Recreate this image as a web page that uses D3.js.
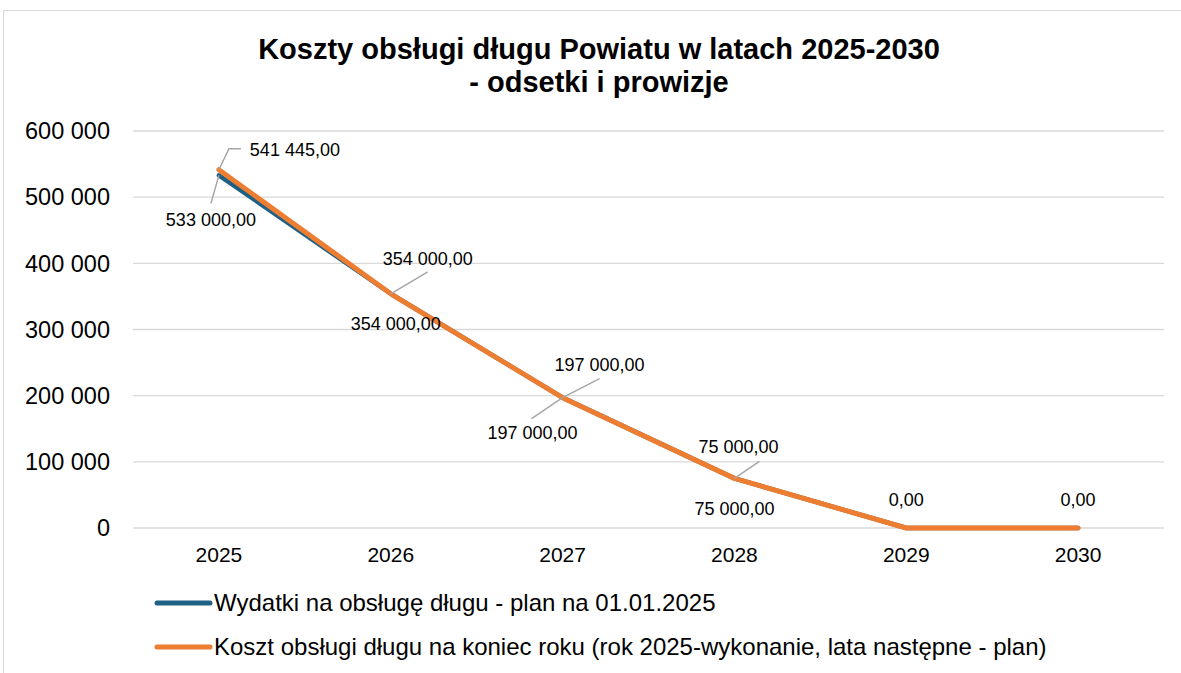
<!DOCTYPE html>
<html>
<head>
<meta charset="utf-8">
<script src="https://cdn.jsdelivr.net/npm/d3@7"></script>
<style>
  body { margin: 0; background: #fff; }
  text { font-family: "Liberation Sans", Arial, sans-serif; fill: #000; }
</style>
</head>
<body>
<div id="chart"></div>
<script>
var years = ["2025", "2026", "2027", "2028", "2029", "2030"];
var planValues = [533000, 354000, 197000, 75000, 0, 0];
var actualValues = [541445, 354000, 197000, 75000, 0, 0];
var seriesNames = [
  "Wydatki na obsługę długu - plan na 01.01.2025",
  "Koszt obsługi długu na koniec roku (rok 2025-wykonanie, lata następne - plan)"
];
var yTicks = [0, 100000, 200000, 300000, 400000, 500000, 600000];

var svgWidth = 1181;
var svgHeight = 673;

var svg = d3.select("#chart")
  .append("svg")
  .attr("width", svgWidth)
  .attr("height", svgHeight);

// outer chart border
svg.append("rect")
  .attr("x", 3.5).attr("y", 10.5)
  .attr("width", 1200).attr("height", 700)
  .attr("fill", "none")
  .attr("stroke", "#d9d9d9");

var x = d3.scaleBand().domain(years).range([133, 1164]);
var y = d3.scaleLinear().domain([0, 600000]).range([528, 131]);

var fmtInt = d3.formatLocale({ decimal: ",", thousands: " ", grouping: [3], currency: ["", ""] });
var tickFmt = fmtInt.format(",d");
var labelFmt = fmtInt.format(",.2f");

// gridlines
svg.append("g").selectAll("line")
  .data(yTicks)
  .enter().append("line")
  .attr("x1", 133).attr("x2", 1164)
  .attr("y1", d => y(d)).attr("y2", d => y(d))
  .attr("stroke", "#d9d9d9").attr("stroke-width", 1.3);

// y axis labels
svg.append("g").selectAll("text")
  .data(yTicks)
  .enter().append("text")
  .attr("x", 110)
  .attr("y", d => y(d))
  .attr("dy", "0.35em")
  .attr("text-anchor", "end")
  .style("font-size", "23.5px")
  .text(d => tickFmt(d));

// x axis labels
svg.append("g").selectAll("text")
  .data(years)
  .enter().append("text")
  .attr("x", d => x(d) + x.bandwidth() / 2)
  .attr("y", 562)
  .attr("text-anchor", "middle")
  .style("font-size", "21px")
  .text(d => d);

// title
var title = svg.append("text")
  .attr("text-anchor", "middle")
  .style("font-size", "29px")
  .style("font-weight", "bold");
title.append("tspan").attr("x", 599).attr("y", 59).text("Koszty obsługi długu Powiatu w latach 2025-2030");
title.append("tspan").attr("x", 599).attr("y", 92).text("- odsetki i prowizje");

var cx = d => x(d) + x.bandwidth() / 2;

var line = d3.line()
  .x((d, i) => cx(years[i]))
  .y(d => y(d));

svg.append("path")
  .datum(planValues)
  .attr("d", line)
  .attr("fill", "none")
  .attr("stroke", "#1f6085")
  .attr("stroke-width", 4.5)
  .attr("stroke-linejoin", "round")
  .attr("stroke-linecap", "round");

svg.append("path")
  .datum(actualValues)
  .attr("d", line)
  .attr("fill", "none")
  .attr("stroke", "#ed7d31")
  .attr("stroke-width", 5)
  .attr("stroke-linejoin", "round")
  .attr("stroke-linecap", "round");

// data label placement: offsets from the point, plus optional leader line
// (null = label hidden under the other series' label)
var planLabelPos = [
  { dx: -8, dy: 44, lead: [-8, 28] },
  { dx: 5, dy: 30, lead: null },
  { dx: -30, dy: 35, lead: [-31, 21] },
  { dx: 0, dy: 30, lead: null },
  null,
  null
];
var actualLabelPos = [
  { dx: 76, dy: -20, lead: [10, -21, 22, -21] },
  { dx: 37, dy: -35, lead: [37, -22] },
  { dx: 37, dy: -33, lead: [37, -19] },
  { dx: 4, dy: -32, lead: [25, -17] },
  { dx: 0, dy: -28, lead: null },
  { dx: 0, dy: -28, lead: null }
];

function drawLabels(values, pos) {
  var g = svg.append("g");
  values.forEach(function(v, i) {
    var p = pos[i];
    if (!p) return;
    var px = cx(years[i]), py = y(v);
    if (p.lead) {
      var pts = [[px, py]];
      for (var k = 0; k < p.lead.length; k += 2) pts.push([px + p.lead[k], py + p.lead[k + 1]]);
      g.append("path")
        .attr("d", d3.line()(pts))
        .attr("fill", "none")
        .attr("stroke", "#a6a6a6")
        .attr("stroke-width", 1.5);
    }
    g.append("text")
      .attr("x", px + p.dx)
      .attr("y", py + p.dy)
      .attr("dy", "0.35em")
      .attr("text-anchor", "middle")
      .style("font-size", "18px")
      .text(labelFmt(v));
  });
}
drawLabels(planValues, planLabelPos);
drawLabels(actualValues, actualLabelPos);

// legend
var legendColors = ["#1f6085", "#ed7d31"];
var legend = svg.append("g").selectAll("g")
  .data(seriesNames)
  .enter().append("g")
  .attr("transform", (d, i) => `translate(157, ${603 + i * 44})`);
legend.append("line")
  .attr("x1", 0).attr("x2", 53)
  .attr("stroke", (d, i) => legendColors[i])
  .attr("stroke-width", 5)
  .attr("stroke-linecap", "round");
legend.append("text")
  .attr("x", 57)
  .attr("dy", "0.35em")
  .style("font-size", "24px")
  .text(d => d);
</script>
</body>
</html>
